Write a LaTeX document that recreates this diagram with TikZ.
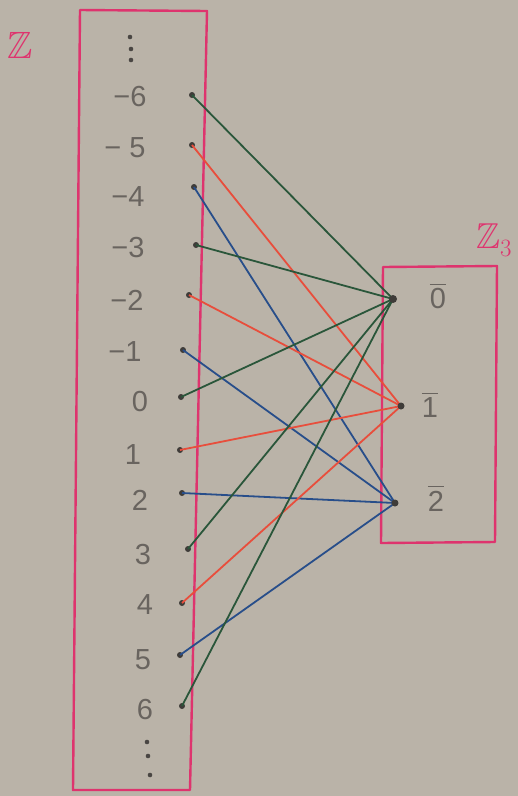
\documentclass[tikz,border=0pt]{standalone}
\usepackage{amssymb}
\usepackage{fontspec}
\setmainfont{Liberation Sans}
\definecolor{paper}{RGB}{186,179,168}
\definecolor{pinkc}{RGB}{222,52,110}
\definecolor{greenc}{RGB}{42,86,58}
\definecolor{redc}{RGB}{232,78,60}
\definecolor{bluec}{RGB}{40,78,138}
\definecolor{inkc}{RGB}{105,100,95}
\begin{document}
\begin{tikzpicture}[x=1pt,y=-1pt,
  pt/.style={circle,fill=inkc!60!black,inner sep=0pt,minimum size=6pt},
  num/.style={text=inkc,font=\fontsize{29}{29}\selectfont,inner sep=0pt},
  cls/.style={text=inkc,font=\fontsize{29}{29}\selectfont,inner sep=0pt},
  dotm/.style={fill=inkc!70!black},
  frame/.style={draw=pinkc,line width=2.4pt,line join=round},
  g/.style={draw=greenc,line width=1.8pt},
  r/.style={draw=redc,line width=1.8pt},
  b/.style={draw=bluec,line width=1.8pt}]
\fill[paper] (0,0) rectangle (518,796);
\useasboundingbox (0,0) rectangle (518,796);
% frames
\draw[frame] (80,10) -- (207,11) -- (190,790) -- (73,790) -- cycle;
\draw[frame] (383,267) -- (497,266) -- (495,542) -- (381,543) -- cycle;
\node[text=pinkc,font=\fontsize{38}{38}\selectfont] (zl) at (20,45) {$\mathbb{Z}$};
\node[text=pinkc,font=\fontsize{36}{36}\selectfont] (z3l) at (494,240) {$\mathbb{Z}_3$};
% dots
\fill[dotm] (130,37) circle (2.3) (131,49) circle (2.3) (131,60) circle (2.3);
\fill[dotm] (147,742) circle (2.3) (148,756) circle (2.3) (150,775) circle (2.3);
% labels Z
\node[num] (lm6) at (130,97) {−6};
\node[num] (lm5) at (125,148) {− 5};
\node[num] (lm4) at (128,197) {−4};
\node[num] (lm3) at (128,248) {−3};
\node[num] (lm2) at (127,300) {−2};
\node[num] (lm1) at (125,352) {−1};
\node[num] (l0) at (140,402) {0};
\node[num] (l1) at (133,455) {1};
\node[num] (l2) at (140,500) {2};
\node[num] (l3) at (143,555) {3};
\node[num] (l4) at (145,605) {4};
\node[num] (l5) at (143,660) {5};
\node[num] (l6) at (145,710) {6};
% points Z
\node[pt] (pm6) at (192,95) {};
\node[pt] (pm5) at (192,145) {};
\node[pt] (pm4) at (194,187) {};
\node[pt] (pm3) at (196,245) {};
\node[pt] (pm2) at (189,295) {};
\node[pt] (pm1) at (183,350) {};
\node[pt] (p0) at (181,397) {};
\node[pt] (p1) at (180,450) {};
\node[pt] (p2) at (182,493) {};
\node[pt] (p3) at (188,549) {};
\node[pt] (p4) at (182,603) {};
\node[pt] (p5) at (180,655) {};
\node[pt] (p6) at (182,706) {};
% Z3
\node[cls] (c0) at (438,296) {$\overline{\hbox{0}}$};
\node[cls] (c1) at (430,405) {$\overline{\hbox{1}}$};
\node[cls] (c2) at (436,498) {$\overline{\hbox{2}}$};
% edges
\draw[g] (pm6.center) -- (393,299) coordinate (q0);
\draw[r] (pm5.center) -- (401,406) coordinate (q1);
\draw[b] (pm4.center) -- (395,503) coordinate (q2);
\draw[g] (pm3.center) -- (q0);
\draw[r] (pm2.center) -- (q1);
\draw[b] (pm1.center) -- (q2);
\draw[g] (p0.center) -- (q0);
\draw[r] (p1.center) -- (q1);
\draw[b] (p2.center) -- (q2);
\draw[g] (p3.center) -- (q0);
\draw[r] (p4.center) -- (q1);
\draw[b] (p5.center) -- (q2);
\draw[g] (p6.center) -- (q0);
\node[pt,minimum size=8pt] (n0) at (q0) {};
\node[pt,minimum size=7pt] (n1) at (q1) {};
\node[pt,minimum size=7pt] (n2) at (q2) {};
\end{tikzpicture}
\end{document}
